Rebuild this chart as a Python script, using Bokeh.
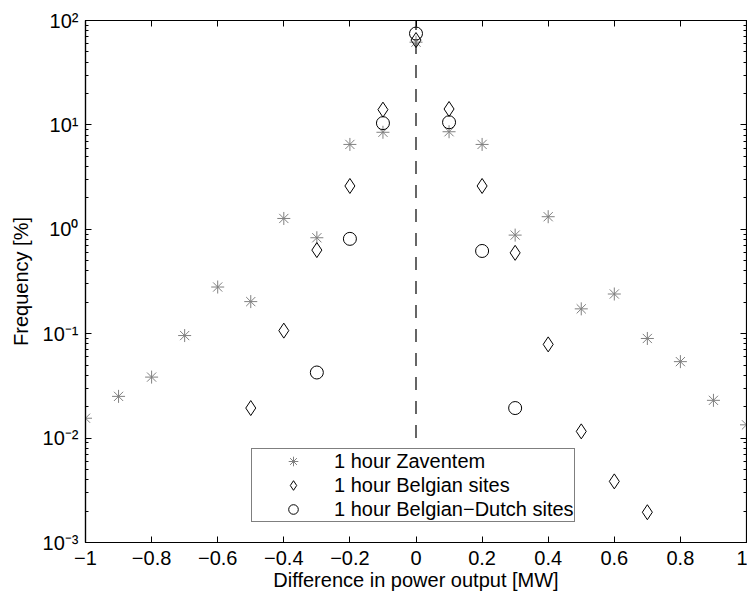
from bokeh.plotting import figure
from bokeh.models import FixedTicker, LogAxis, LinearAxis, Legend, LegendItem
from bokeh.embed import file_html
from bokeh.resources import INLINE

# ---- data ----
zav_x = [-1.0, -0.9, -0.8, -0.7, -0.6, -0.5, -0.4, -0.3, -0.2, -0.1, 0.0,
         0.1, 0.2, 0.3, 0.4, 0.5, 0.6, 0.7, 0.8, 0.9, 1.0]
zav_y = [0.0155, 0.0251, 0.0384, 0.096, 0.28, 0.203, 1.27, 0.83, 6.5, 8.5, 62.0,
         8.6, 6.5, 0.88, 1.32, 0.173, 0.24, 0.09, 0.054, 0.023, 0.0134]

bel_x = [-0.5, -0.4, -0.3, -0.2, -0.1, 0.0, 0.1, 0.2, 0.3, 0.4, 0.5, 0.6, 0.7]
bel_y = [0.0194, 0.107, 0.632, 2.6, 14.0, 65.0, 14.2, 2.6, 0.595, 0.079, 0.0116, 0.00385, 0.00195]

bd_x = [-0.3, -0.2, -0.1, 0.0, 0.1, 0.2, 0.3]
bd_y = [0.0425, 0.81, 10.4, 75.0, 10.6, 0.62, 0.0194]

ref_x = [0.0, 0.0]
ref_y = [0.01, 100.0]

x_ticks = [-1.0, -0.8, -0.6, -0.4, -0.2, 0.0, 0.2, 0.4, 0.6, 0.8, 1.0]
x_tick_labels = ["\u22121", "\u22120.8", "\u22120.6", "\u22120.4", "\u22120.2", "0",
                 "0.2", "0.4", "0.6", "0.8", "1"]
y_ticks = [0.001, 0.01, 0.1, 1.0, 10.0, 100.0]
y_tick_labels = ["10\u207b\u00b3", "10\u207b\u00b2", "10\u207b\u00b9", "10\u2070", "10\u00b9", "10\u00b2"]

series_labels = ["1 hour Zaventem", "1 hour Belgian sites", "1 hour Belgian\u2212Dutch sites"]

FONT = "Liberation Sans"
FS = "20px"

y_minor = [k * 10.0 ** e for e in range(-3, 2) for k in range(2, 10)]

p = figure(width=747, height=596, output_backend="svg", toolbar_location=None,
           y_axis_type="log", x_range=(-1, 1), y_range=(0.001, 100),
           min_border_left=85, min_border_top=20, min_border_right=1, min_border_bottom=54)
p.background_fill_color = "white"
p.border_fill_color = "white"
p.outline_line_color = "black"
p.outline_line_width = 1.2
p.grid.visible = False

xt = FixedTicker(ticks=x_ticks)
yt = FixedTicker(ticks=y_ticks, minor_ticks=y_minor)

for ax in (p.xaxis[0], p.yaxis[0]):
    ax.axis_line_color = "black"
    ax.axis_line_width = 1.2
    ax.major_tick_line_color = "black"
    ax.minor_tick_line_color = "black"
    ax.major_tick_in = 6
    ax.major_tick_out = 0
    ax.minor_tick_in = 3
    ax.minor_tick_out = 0
    ax.major_label_text_font = FONT
    ax.major_label_text_font_size = FS
    ax.major_label_text_color = "black"
    ax.axis_label_text_font = FONT
    ax.axis_label_text_font_size = FS
    ax.axis_label_text_font_style = "normal"
    ax.axis_label_text_color = "black"

p.xaxis[0].ticker = xt
p.xaxis[0].major_label_overrides = {t: s for t, s in zip(x_ticks, x_tick_labels)}
p.xaxis[0].axis_label = "Difference in power output [MW]"
p.xaxis[0].major_label_standoff = 8
p.xaxis[0].axis_label_standoff = 1

p.yaxis[0].ticker = yt
p.yaxis[0].major_label_overrides = {t: s for t, s in zip(y_ticks, y_tick_labels)}
p.yaxis[0].axis_label = "Frequency [%]"
p.yaxis[0].major_label_standoff = 7
p.yaxis[0].axis_label_standoff = 8

top = LinearAxis(ticker=FixedTicker(ticks=x_ticks), major_label_text_font_size="1px",
                 major_label_text_color=None, major_label_standoff=0,
                 major_tick_in=6, major_tick_out=0,
                 axis_line_color="black", major_tick_line_color="black")
p.add_layout(top, "above")
right = LogAxis(ticker=FixedTicker(ticks=y_ticks, minor_ticks=y_minor),
                major_label_text_font_size="1px", major_label_text_color=None,
                major_label_standoff=0,
                major_tick_in=6, major_tick_out=0, minor_tick_in=3, minor_tick_out=0,
                axis_line_color="black", major_tick_line_color="black",
                minor_tick_line_color="black")
p.add_layout(right, "right")

p.line(ref_x, ref_y, line_color="black", line_width=1.2, line_dash="13 11")

r1 = p.scatter(zav_x, zav_y, marker="asterisk", size=13, line_color="#808080", line_width=1)
r2 = p.scatter(bel_x, bel_y, marker="diamond", size=15, line_color="black", fill_color=None, line_width=1)
r3 = p.scatter(bd_x, bd_y, marker="circle", size=13, line_color="black", fill_color=None, line_width=1)

legend = Legend(items=[LegendItem(label=series_labels[0], renderers=[r1]),
                       LegendItem(label=series_labels[1], renderers=[r2]),
                       LegendItem(label=series_labels[2], renderers=[r3])],
                location=(166, 20))
legend.label_text_font = FONT
legend.label_text_font_size = FS
legend.label_text_color = "black"
legend.border_line_color = "black"
legend.border_line_width = 1.5
legend.background_fill_color = "white"
legend.background_fill_alpha = 1.0
legend.padding = 0
legend.spacing = 0
legend.margin = 0
legend.glyph_width = 82
legend.glyph_height = 24
legend.label_height = 24
legend.label_standoff = 0
p.add_layout(legend, "center")

open("out.html", "w").write(file_html(p, INLINE))
